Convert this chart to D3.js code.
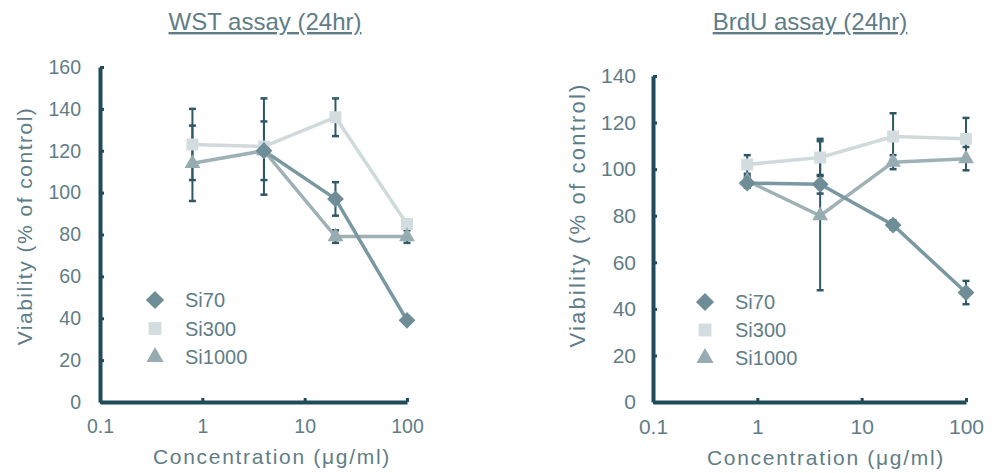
<!DOCTYPE html>
<html>
<head>
<meta charset="utf-8">
<script src="https://cdn.jsdelivr.net/npm/d3@7"></script>
<style>
  body { margin: 0; background: #fff; }
  text { font-family: 'Liberation Sans', Arial, sans-serif; fill: #5f7d86; }
</style>
</head>
<body>
<div id="chart-area"></div>
<script>
// canvas size
const W = 993;
const H = 473;

// shared categories
const concentrations = [0.8, 4, 20, 100];
const seriesNames = ['Si70', 'Si300', 'Si1000'];
const xTicks = [0.1, 1, 10, 100];

// WST assay (24hr) values, % of control
const wstSi70 = [null, 120, 97, 39];
const wstSi300 = [123, 122, 136, 85];
const wstSi1000 = [114, 120, 79, 79];
// +/- error
const wstSi70Err = [null, 2, 8, 1];
const wstSi300Err = [17, 23, 9, 2];
const wstSi1000Err = [18, 14, 3, 3];
const wstYTicks = [0, 20, 40, 60, 80, 100, 120, 140, 160];

// BrdU assay (24hr) values, % of control
const brduSi70 = [94, 93.5, 76, 47];
const brduSi300 = [102, 105, 114, 113];
const brduSi1000 = [95, 80, 103, 104.5];
const brduSi70Err = [2, 4, 2, 5];
const brduSi300Err = [4, 8, 10, 9];
const brduSi1000Err = [2, 32, 3, 5];
const brduYTicks = [0, 20, 40, 60, 80, 100, 120, 140];

// styles per series
const lineColor = { Si70: '#7a98a2', Si300: '#d0dadc', Si1000: '#9db1b6' };
const markColor = { Si70: '#6f8d97', Si300: '#d3dcde', Si1000: '#97acb1' };
const markShape = { Si70: d3.symbolDiamond2, Si300: d3.symbolSquare2, Si1000: d3.symbolTriangle2 };
const axisColor = '#1f4b5b';
const errColor = '#2f5867';
const textColor = '#5f7d86';

const svg = d3
  .select('#chart-area')
  .append('svg')
  .attr('width', W)
  .attr('height', H);

function makeSymbol(name, size) {
  let s = d3.symbol().type(markShape[name]).size(size);
  return s();
}

function styleAxis(sel, size) {
  sel.select('.domain').attr('stroke', axisColor).attr('stroke-width', 4);
  sel.selectAll('.tick line').attr('stroke', axisColor).attr('stroke-width', 3);
  sel.selectAll('.tick text')
    .style('font-size', size + 'px')
    .style('font-family', "'Liberation Sans', Arial, sans-serif")
    .attr('fill', textColor);
}

function drawPanel(p) {
  const x = d3.scaleLog().domain([0.1, 100]).range(p.xRange);
  const y = d3.scaleLinear().domain([0, p.yMax]).range(p.yRange);
  const g = svg.append('g');

  // title, underlined
  g.append('text')
    .attr('x', p.titleX)
    .attr('y', p.titleY)
    .attr('text-anchor', 'middle')
    .attr('text-decoration', 'underline')
    .style('font-size', p.titleSize + 'px')
    .text(p.title);

  // y axis
  const yAxis = g.append('g')
    .attr('transform', `translate(${p.xRange[0]},0)`)
    .call(d3.axisLeft(y).tickValues(p.yTicks).tickSizeInner(-4).tickSizeOuter(0).tickPadding(p.tickPad));
  styleAxis(yAxis, p.tickSize);

  // x axis
  const xAxis = g.append('g')
    .attr('transform', `translate(0,${p.yRange[0]})`)
    .call(d3.axisBottom(x).tickValues(xTicks).tickFormat(d3.format('')).tickSizeInner(-4).tickSizeOuter(0).tickPadding(17));
  styleAxis(xAxis, p.tickSize);

  // axis titles
  g.append('text')
    .attr('x', p.xLabelX)
    .attr('y', p.xLabelY)
    .attr('text-anchor', 'middle')
    .style('font-size', p.labelSize + 'px')
    .style('letter-spacing', p.xLabelSpacing + 'px')
    .text('Concentration (\u03bcg/ml)');
  g.append('text')
    .attr('transform', `translate(${p.yLabelX},${p.yLabelY}) rotate(-90)`)
    .attr('text-anchor', 'middle')
    .style('font-size', p.yLabelSize + 'px')
    .style('letter-spacing', p.yLabelSpacing + 'px')
    .text('Viability (% of control)');

  // error bars
  seriesNames.forEach((name) => {
    const vals = p.values[name];
    const errs = p.errors[name];
    concentrations.forEach((c, i) => {
      if (vals[i] == null || errs[i] == null) return;
      const cx = x(c);
      const lo = y(vals[i] - errs[i]);
      const hi = y(vals[i] + errs[i]);
      g.append('line').attr('x1', cx).attr('x2', cx).attr('y1', lo).attr('y2', hi)
        .attr('stroke', errColor).attr('stroke-width', 2);
      [lo, hi].forEach((yy) => {
        g.append('line').attr('x1', cx - 3.5).attr('x2', cx + 3.5).attr('y1', yy).attr('y2', yy)
          .attr('stroke', errColor).attr('stroke-width', 2.5);
      });
    });
  });

  // lines
  const line = d3.line()
    .defined((d) => d.v != null)
    .x((d) => x(d.c))
    .y((d) => y(d.v));
  ['Si300', 'Si1000', 'Si70'].forEach((name) => {
    const pts = concentrations.map((c, i) => ({ c: c, v: p.values[name][i] }));
    g.append('path')
      .attr('fill', 'none')
      .attr('stroke', lineColor[name])
      .attr('stroke-width', 3.5)
      .attr('d', line(pts));
  });

  // markers
  ['Si300', 'Si1000', 'Si70'].forEach((name) => {
    concentrations.forEach((c, i) => {
      const v = p.values[name][i];
      if (v == null) return;
      g.append('path')
        .attr('transform', `translate(${x(c)},${y(v)})`)
        .attr('d', makeSymbol(name, p.markSize))
        .attr('fill', markColor[name]);
    });
  });

  // legend
  seriesNames.forEach((name, i) => {
    const ly = p.legendY + i * p.legendStep;
    g.append('path')
      .attr('transform', `translate(${p.legendX},${ly})`)
      .attr('d', makeSymbol(name, 210))
      .attr('fill', markColor[name]);
    g.append('text')
      .attr('x', p.legendX + 30)
      .attr('y', ly + 7)
      .style('font-size', p.legendSize + 'px')
      .text(name);
  });
}

drawPanel({
  title: 'WST assay (24hr)', titleX: 265, titleY: 30, titleSize: 24,
  xRange: [100, 407], yRange: [402, 67], yMax: 160, yTicks: wstYTicks,
  tickSize: 19.5, tickPad: 19,
  xLabelX: 272, xLabelY: 464, labelSize: 21, xLabelSpacing: 1.7,
  yLabelX: 32, yLabelY: 226, yLabelSize: 21, yLabelSpacing: 1.5,
  values: { Si70: wstSi70, Si300: wstSi300, Si1000: wstSi1000 },
  errors: { Si70: wstSi70Err, Si300: wstSi300Err, Si1000: wstSi1000Err },
  markSize: 180,
  legendX: 155, legendY: 300, legendStep: 28.5, legendSize: 20,
});

drawPanel({
  title: 'BrdU assay (24hr)', titleX: 810, titleY: 30, titleSize: 24,
  xRange: [653, 966], yRange: [402, 76], yMax: 140, yTicks: brduYTicks,
  tickSize: 21, tickPad: 17,
  xLabelX: 826, xLabelY: 465, labelSize: 21, xLabelSpacing: 1.7,
  yLabelX: 585, yLabelY: 215, yLabelSize: 22, yLabelSpacing: 2.2,
  values: { Si70: brduSi70, Si300: brduSi300, Si1000: brduSi1000 },
  errors: { Si70: brduSi70Err, Si300: brduSi300Err, Si1000: brduSi1000Err },
  markSize: 180,
  legendX: 705, legendY: 302, legendStep: 28, legendSize: 20,
});
</script>
</body>
</html>
